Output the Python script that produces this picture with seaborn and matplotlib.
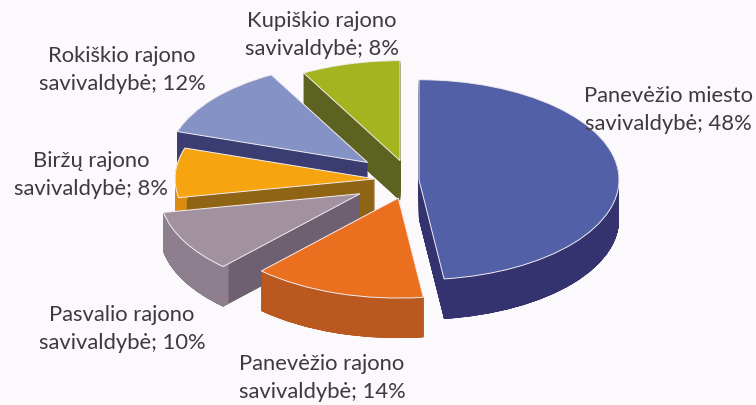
import matplotlib
matplotlib.use('Agg')
import matplotlib.pyplot as plt
import numpy as np
import seaborn as sns

# clockwise from 12 o'clock
names = ['Panevėžio miesto', 'Panevėžio rajono', 'Pasvalio rajono',
         'Biržų rajono', 'Rokiškio rajono', 'Kupiškio rajono']
shares = [48, 14, 10, 8, 12, 8]

explode = [0.045, 0.19, 0.285, 0.175, 0.275, 0.20]
top_colors = ['#5260a8', '#ea701f', '#a2929f', '#f6a40f', '#8592c5', '#a4b41f']
rim_colors = ['#34326f', '#b9581f', '#8d7f8d', '#d98c10', '#3b3c72', '#5c6320']
cut_colors = ['#34326f', '#a34e1e', '#6e6071', '#8f6415', '#3b3c72', '#5c6320']
# painted back to front
draw_rank = [5, 4, 3, 2, 1, 0]

# label centre in pixels
label_xy = [(668, 110), (322, 378), (122, 329), (91, 175), (122, 70), (322, 35)]

BG = '#fbf9fb'
DEPTH = 0.40
STEP = 0.002  # thin layers, thicker ones leave a sawtooth on the wedge tips

sns.set_theme(style='white')
plt.rcParams['font.family'] = ['Lato', 'DejaVu Sans']

fig = plt.figure(figsize=(7.56, 4.05), dpi=100, facecolor=BG)
ax = fig.add_axes([0, 0, 1, 1])


def pie_layer(colors, drop, z_offset, **wedgeprops):
    wedges, _ = ax.pie(shares, explode=explode, colors=colors, startangle=90,
                       counterclock=False, center=(0, -drop),
                       wedgeprops=wedgeprops)
    for w, rank in zip(wedges, draw_rank):
        w.set_zorder(rank * 10 + z_offset)
    return wedges


# the extruded sides are just the pie stacked downward
for drop in np.arange(DEPTH, 0, -STEP):
    pie_layer(cut_colors, drop, 1, linewidth=0)
    pie_layer(rim_colors, drop, 2, linewidth=0, width=0.04)

pie_layer(top_colors, 0, 3, linewidth=0.7, edgecolor='#f4eef2')

ax.set_aspect('auto')
ax.set_xlim(-2.05, 1.73)
ax.set_ylim(-2.25, 1.80)
ax.set_facecolor(BG)
ax.axis('off')

for name, share, (px, py) in zip(names, shares, label_xy):
    fig.text(px / 756, 1 - py / 405, f'{name}\nsavivaldybė; {share}%',
             ha='center', va='center', fontsize=15.8, color='#3c3a3e',
             linespacing=1.45, zorder=100)

fig.savefig('out.png', dpi=100, facecolor=BG)
